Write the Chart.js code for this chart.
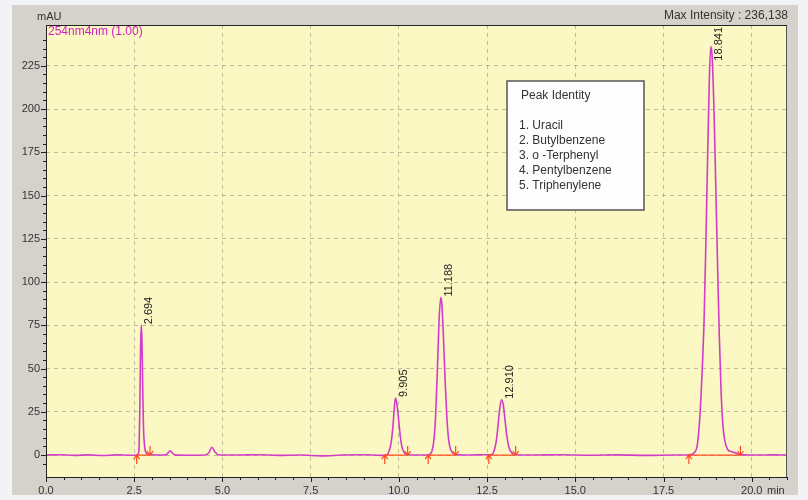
<!DOCTYPE html>
<html>
<head>
<meta charset="utf-8">
<script src="https://cdn.jsdelivr.net/npm/chart.js@4.4.0/dist/chart.umd.min.js"></script>
<style>
  body { margin: 0; background: #f1f3f6; }
  canvas { display: block; }
</style>
</head>
<body>
<canvas id="chromatogram" width="808" height="500"></canvas>
<script>
// retention time (min) and detector signal (mAU)
const times = [
  0.00, 0.40, 0.80, 1.20, 1.60, 2.00, 2.40, 2.58, 2.62, 2.64, 2.66, 2.68, 2.70, 2.72, 2.74, 2.76, 2.79, 2.83, 2.90, 3.10,
  3.40, 3.47, 3.52, 3.58, 3.65, 4.00, 4.50, 4.62, 4.70, 4.78, 4.88, 5.40, 6.00, 6.60, 7.20, 7.80, 8.40, 9.00, 9.50,
  9.65, 9.72, 9.78, 9.83, 9.87, 9.905, 9.94, 9.99, 10.04, 10.09, 10.15, 10.25, 10.50,
  10.85, 10.94, 10.99, 11.04, 11.09, 11.14, 11.188, 11.22, 11.26, 11.31, 11.36, 11.41, 11.47, 11.55, 11.70, 12.00,
  12.40, 12.62, 12.70, 12.76, 12.81, 12.86, 12.91, 12.96, 13.01, 13.06, 13.12, 13.20, 13.32, 13.80,
  14.60, 15.40, 16.20, 17.00, 17.80, 18.25, 18.38, 18.46, 18.53, 18.59, 18.65, 18.70, 18.75, 18.80, 18.841,
  18.88, 18.93, 18.98, 19.03, 19.08, 19.13, 19.18, 19.24, 19.32, 19.42, 19.52, 19.62, 19.75, 20.20, 20.60, 21.00
];
const mAU = [
  0, 0.2, -0.2, 0.1, -0.3, 0.1, -0.1, 0, 1, 6, 28, 62, 75, 66, 40, 18, 6, 1.5, 0.4, 0,
  0.1, 1.5, 2.5, 1.2, 0.1, -0.1, 0, 1.5, 4.5, 2, 0.2, 0, 0.2, -0.2, 0, -0.5, 0, 0.2, -0.2,
  0, 2, 7, 16, 27, 33, 30, 21, 11, 4.5, 1.5, 0.3, 0,
  0.2, 2.5, 8, 22, 48, 78, 91, 87, 70, 44, 22, 9, 3, 0.8, 0.1, 0,
  0.2, 0.2, 2.5, 8, 17, 27, 32, 29, 20, 11, 4.5, 1.2, 0.2, 0,
  0.2, -0.1, 0.1, -0.2, 0, 0.2, 1.5, 6, 22, 46, 78, 122, 172, 218, 236.1,
  230, 200, 157, 112, 70, 38, 18, 8, 3.2, 2, 1.4, 0.5, 0.1, 0, 0.1, 0
];

const peakTimes = [2.694, 9.905, 11.188, 12.910, 18.841];
const peakHeights = [75, 33, 91, 32, 236.1];
const peakLabels = ['2.694', '9.905', '11.188', '12.910', '18.841'];
const peakStarts = [2.57, 9.60, 10.83, 12.55, 18.22];
const peakEnds = [2.95, 10.25, 11.61, 13.31, 19.68];
const peakNames = ['1. Uracil', '2. Butylbenzene', '3. o -Terphenyl', '4. Pentylbenzene', '5. Triphenylene'];

const xTickLabels = [0, 2.5, 5, 7.5, 10, 12.5, 15, 17.5, 20];
const yTickLabels = [0, 25, 50, 75, 100, 125, 150, 175, 200, 225];

const FONT = "'Liberation Sans', Arial, sans-serif";
const isOn = (v, list) => list.some(t => Math.abs(t - v) < 1e-6);
const isStep = (v, s) => Math.abs(v / s - Math.round(v / s)) < 1e-6;

const decor = {
  id: 'decor',
  beforeDraw(chart) {
    const { ctx, chartArea: a } = chart;
    ctx.save();
    ctx.fillStyle = '#f1f3f6';
    ctx.fillRect(0, 0, chart.width, chart.height);
    ctx.fillStyle = '#d5d2cb';
    ctx.fillRect(12, 5, 786, 490);
    ctx.fillStyle = '#fcf8c4';
    ctx.fillRect(a.left, a.top, a.right - a.left, a.bottom - a.top);
    ctx.restore();
  },
  afterDatasetsDraw(chart) {
    const { ctx, chartArea: a, scales: { x, y } } = chart;
    const y0 = y.getPixelForValue(0);
    ctx.save();
    // integration baselines and start / end markers
    ctx.strokeStyle = '#ff4a1c';
    ctx.lineWidth = 1.2;
    peakStarts.forEach((s, i) => {
      const xs = x.getPixelForValue(s), xe = x.getPixelForValue(peakEnds[i]);
      ctx.beginPath();
      ctx.moveTo(xs, y0); ctx.lineTo(xe, y0);
      // up arrow below baseline
      ctx.moveTo(xs, y0 + 9); ctx.lineTo(xs, y0);
      ctx.moveTo(xs - 3, y0 + 4); ctx.lineTo(xs, y0); ctx.lineTo(xs + 3, y0 + 4);
      // down arrow above baseline
      ctx.moveTo(xe, y0 - 9); ctx.lineTo(xe, y0);
      ctx.moveTo(xe - 3, y0 - 4); ctx.lineTo(xe, y0); ctx.lineTo(xe + 3, y0 - 4);
      ctx.stroke();
    });
    // retention time labels
    ctx.fillStyle = '#222';
    ctx.font = '11px ' + FONT;
    ctx.textAlign = 'left';
    ctx.textBaseline = 'middle';
    peakTimes.forEach((t, i) => {
      const w = ctx.measureText(peakLabels[i]).width;
      const px = x.getPixelForValue(t) + 8;
      const py = Math.max(y.getPixelForValue(peakHeights[i]) - 1, a.top + w + 2);
      ctx.save();
      ctx.translate(px, py);
      ctx.rotate(-Math.PI / 2);
      ctx.fillText(peakLabels[i], 0, 0);
      ctx.restore();
    });
    ctx.restore();
  },
  afterDraw(chart) {
    const { ctx, chartArea: a, scales: { x, y } } = chart;
    ctx.save();
    ctx.strokeStyle = '#555';
    ctx.lineWidth = 1;
    ctx.strokeRect(a.left + 0.5, a.top + 0.5, a.right - a.left - 1, a.bottom - a.top);
    ctx.strokeStyle = '#222';
    ctx.beginPath();
    ctx.moveTo(a.left + 0.5, a.top); ctx.lineTo(a.left + 0.5, a.bottom + 0.5);
    ctx.lineTo(a.right, a.bottom + 0.5);
    ctx.moveTo(a.left, a.top + 0.5); ctx.lineTo(a.right, a.top + 0.5);
    // tick marks
    y.ticks.forEach(t => {
      if (!isStep(t.value, 5)) return;
      const len = isStep(t.value, 25) ? 5 : 3;
      const py = Math.round(y.getPixelForValue(t.value)) + 0.5;
      ctx.moveTo(a.left - len, py); ctx.lineTo(a.left, py);
    });
    x.ticks.forEach(t => {
      if (!isStep(t.value, 0.5)) return;
      const len = isStep(t.value, 2.5) ? 5 : 3;
      const px = Math.round(x.getPixelForValue(t.value)) + 0.5;
      ctx.moveTo(px, a.bottom); ctx.lineTo(px, a.bottom + len);
    });
    ctx.stroke();

    // header texts
    ctx.fillStyle = '#333';
    ctx.font = '11px ' + FONT;
    ctx.textBaseline = 'middle';
    ctx.textAlign = 'left';
    ctx.fillText('mAU', 37, 17);
    ctx.fillText('min', 767, 491);
    ctx.font = '12px ' + FONT;
    ctx.textAlign = 'right';
    ctx.fillText('Max Intensity : 236,138', 788, 16);
    ctx.textAlign = 'left';
    ctx.fillStyle = '#d21fc0';
    ctx.fillText('254nm4nm (1.00)', 48, 32);

    // peak identity box
    ctx.fillStyle = '#fdfdfd';
    ctx.fillRect(507, 81, 137, 129);
    ctx.strokeStyle = '#555';
    ctx.lineWidth = 1.5;
    ctx.strokeRect(507, 81, 137, 129);
    ctx.fillStyle = '#333';
    ctx.font = '12px ' + FONT;
    ctx.fillText('Peak Identity', 521, 96);
    peakNames.forEach((n, i) => ctx.fillText(n, 519, 126 + i * 14.8));
    ctx.restore();
  }
};

const points = times.map((t, i) => ({ x: t, y: mAU[i] }));

new Chart(document.getElementById('chromatogram'), {
  type: 'line',
  data: {
    datasets: [{
      label: '254nm4nm (1.00)',
      data: points,
      borderColor: '#d23cc8',
      borderWidth: 1.6,
      pointRadius: 0,
      cubicInterpolationMode: 'monotone',
      fill: false
    }]
  },
  options: {
    responsive: false,
    animation: false,
    events: [],
    layout: { padding: { left: 12, right: 21, top: 25, bottom: 5 } },
    plugins: { legend: { display: false }, tooltip: { enabled: false } },
    scales: {
      x: {
        type: 'linear',
        min: 0,
        max: 21,
        afterFit: s => { s.height = 18; },
        ticks: {
          stepSize: 0.5,
          autoSkip: false,
          maxRotation: 0,
          padding: 7,
          color: '#333',
          font: { family: FONT, size: 11 },
          callback: v => isOn(v, xTickLabels) ? v.toFixed(1) : ''
        },
        grid: {
          drawTicks: false,
          color: c => (c.tick && isOn(c.tick.value, xTickLabels) && c.tick.value > 0) ? 'rgba(140,140,130,0.55)' : 'transparent',
          lineWidth: 1
        },
        border: { display: false, dash: [4, 4] }
      },
      y: {
        type: 'linear',
        min: -12.7,
        max: 248.6,
        afterFit: s => { s.width = 34; },
        ticks: {
          stepSize: 5,
          autoSkip: false,
          padding: 6,
          color: '#333',
          font: { family: FONT, size: 11 },
          callback: v => isOn(v, yTickLabels) ? String(v) : ''
        },
        grid: {
          drawTicks: false,
          color: c => (c.tick && isOn(c.tick.value, yTickLabels)) ? 'rgba(140,140,130,0.55)' : 'transparent',
          lineWidth: 1
        },
        border: { display: false, dash: [4, 4] }
      }
    }
  },
  plugins: [decor]
});
</script>
</body>
</html>
